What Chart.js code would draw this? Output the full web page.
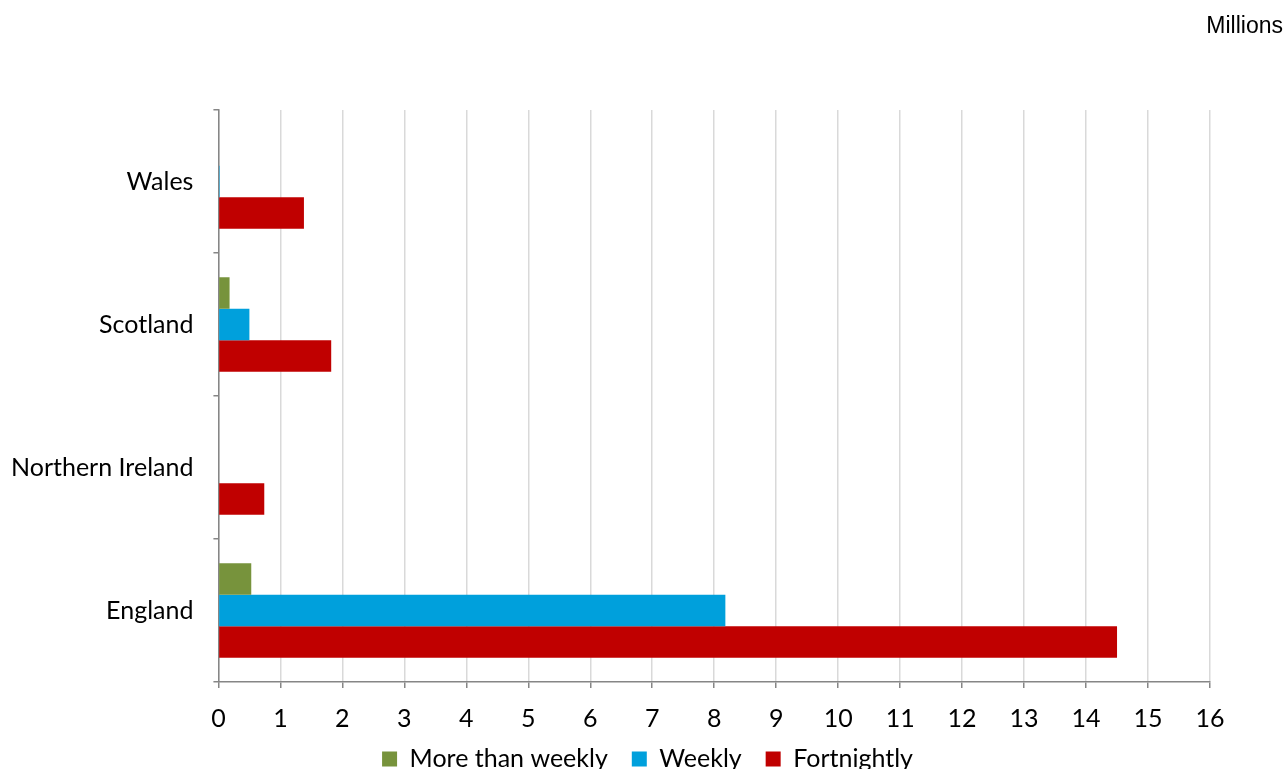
<!DOCTYPE html>
<html lang="en">

<head>
    <meta charset="UTF-8">
    <title>Collection frequency by country</title>
    <script src="https://cdn.jsdelivr.net/npm/chart.js"></script>
    <style>
        body { margin: 0; background: #fff; }
        .wrap { position: relative; width: 1287px; height: 769px; overflow: hidden; }
        .unidade {
            position: absolute; right: 4px; top: 12px;
            font-family: "Liberation Sans", Arial, sans-serif; font-size: 23px; color: #000;
        }
    </style>
</head>

<body>
    <div class="wrap">
        <div class="unidade">Millions</div>
        <canvas id="grafico" width="1287" height="769"></canvas>
    </div>

<script>
    const paises = ['Wales', 'Scotland', 'Northern Ireland', 'England']
    const maisQueSemanal = [0, 0.18, 0, 0.53]
    const semanal = [0.02, 0.5, 0, 8.18]
    const quinzenal = [1.38, 1.82, 0.74, 14.5]
    const ticksX = [0, 1, 2, 3, 4, 5, 6, 7, 8, 9, 10, 11, 12, 13, 14, 15, 16]

    const fonte = { family: 'Lato, "Open Sans", sans-serif', size: 25 }
    const espacoLegenda = 24

    // legenda centralizada na largura toda do canvas, texto em y ~759
    const legendaCentro = {
        id: 'legendaCentro',
        afterLayout(chart) {
            const lg = chart.legend
            lg.left = 8
            lg.right = chart.width
            lg.top = 759 - espacoLegenda - 12.5
        }
    }

    const ctx = document.getElementById('grafico').getContext('2d')
    new Chart(ctx, {
        type: 'bar',
        data: {
            labels: paises,
            datasets: [
                { label: 'More than weekly', data: maisQueSemanal, backgroundColor: '#77933C' },
                { label: 'Weekly', data: semanal, backgroundColor: '#00A0DC' },
                { label: 'Fortnightly', data: quinzenal, backgroundColor: '#C00000' }
            ]
        },
        options: {
            indexAxis: 'y',
            responsive: false,
            animation: false,
            categoryPercentage: 0.66,
            barPercentage: 1,
            layout: { padding: { left: -9, right: 77, top: 110, bottom: 0 } },
            plugins: {
                legend: {
                    position: 'bottom',
                    maxHeight: 19,
                    labels: {
                        color: '#000',
                        font: fonte,
                        boxWidth: 15,
                        boxHeight: 15,
                        padding: espacoLegenda
                    }
                },
                tooltip: { enabled: false }
            },
            scales: {
                x: {
                    min: 0,
                    max: 16,
                    afterBuildTicks: axis => { axis.ticks = ticksX.map(v => ({ value: v })) },
                    ticks: { color: '#000', font: fonte, padding: 16 },
                    grid: { color: '#D9D9D9', lineWidth: 1.5, tickColor: '#868686', tickLength: 6 },
                    border: { color: '#868686', width: 1.5 }
                },
                y: {
                    ticks: { color: '#000', font: fonte, padding: 20 },
                    grid: { drawOnChartArea: false, color: '#868686', tickLength: 5, lineWidth: 1.5 },
                    border: { color: '#868686', width: 1.5 }
                }
            }
        },
        plugins: [legendaCentro]
    })
</script>
</body>

</html>
